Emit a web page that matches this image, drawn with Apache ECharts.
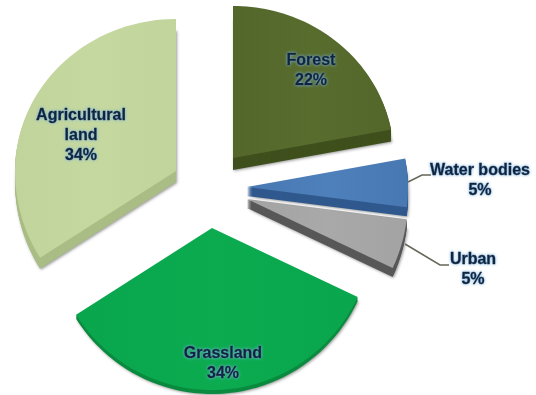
<!DOCTYPE html>
<html>
<head>
<meta charset="utf-8">
<title>Land cover</title>
<style>html,body{margin:0;padding:0;background:#fff}#chart{width:536px;height:395px}</style>
<script src="https://cdn.jsdelivr.net/npm/echarts@6/dist/echarts.min.js"></script>
</head>
<body>
<div id="chart"></div>
<script>
// Land cover shares, clockwise from twelve o'clock
const categories = ['Forest', 'Water bodies', 'Urban', 'Grassland', 'Agricultural\nland'];
const shares = [22, 5, 5, 34, 34];

// Look of each wedge: exploded apex, extrusion depth, face and side colours, label anchor
const apexX = [233, 247, 247, 212, 176];
const apexY = [158, 187, 199, 228, 171];
const depth = [12, 9, 9, 4, 11];
const faceLight = ['#586c2e', '#4e80bb', '#a9a9a9', '#0cab50', '#c5d8a0'];
const faceDark = ['#54672b', '#4878b2', '#a3a3a3', '#09a64d', '#c1d49b'];
const sideColor = ['#3f501d', '#30598e', '#585858', '#0a8b3f', '#aabd85'];
const labelX = [311, 480, 473, 223, 81];
const labelY = [71, 181, 270, 364, 136];
const leaders = [null, [[408, 182], [422, 175], [431, 175]], [[405, 244], [440, 265], [449, 265]], null, null];
const drawOrder = [4, 2, 1, 4, 1];

const radiusX = 161, radiusUp = 152, radiusDown = 162;
const total = shares.reduce((a, b) => a + b, 0);

// Angles in radians clockwise from the top, taken from the running total of the shares
function wedgeOutline(index, dy) {
  let before = 0;
  for (let i = 0; i < index; i++) before += shares[i];
  const a0 = before / total * Math.PI * 2;
  const a1 = (before + shares[index]) / total * Math.PI * 2;
  const pts = [[apexX[index], apexY[index] + dy]];
  const steps = 48;
  for (let s = 0; s <= steps; s++) {
    const a = a0 + (a1 - a0) * s / steps;
    const c = Math.cos(a);
    pts.push([
      apexX[index] + radiusX * Math.sin(a),
      apexY[index] + dy - c * (c > 0 ? radiusUp : radiusDown)
    ]);
  }
  return pts;
}

function renderWedge(params, api) {
  const i = api.value(0);
  const children = [];
  // extruded side: the outline repeated downward, the lowest copy casts the soft shadow
  for (let d = depth[i]; d >= 1; d--) {
    children.push({
      type: 'polygon',
      z2: drawOrder[i],
      shape: { points: wedgeOutline(i, d) },
      style: d === depth[i]
        ? { fill: sideColor[i], shadowColor: 'rgba(0,0,0,0.4)', shadowBlur: 3, shadowOffsetX: 1, shadowOffsetY: 1 }
        : { fill: sideColor[i] }
    });
  }
  children.push({
    type: 'polygon',
    z2: drawOrder[i],
    shape: { points: wedgeOutline(i, 0) },
    style: {
      fill: new echarts.graphic.LinearGradient(0, 0, 1, 0, [
        { offset: 0, color: faceDark[i] },
        { offset: 0.5, color: faceLight[i] },
        { offset: 1, color: faceDark[i] }
      ])
    }
  });
  if (leaders[i]) {
    children.push({
      type: 'polyline',
      z2: 20,
      shape: { points: leaders[i] },
      style: { fill: null, stroke: '#666659', lineWidth: 1.5 }
    });
  }
  children.push({
    type: 'text',
    z2: 30,
    x: labelX[i],
    y: labelY[i],
    style: {
      text: categories[i] + '\n' + shares[i] + '%',
      x: 0,
      y: 0,
      align: 'center',
      verticalAlign: 'middle',
      fontFamily: 'Liberation Sans',
      fontWeight: 'bold',
      fontSize: 16,
      lineHeight: 20,
      fill: '#10233f',
      stroke: '#10233f',
      lineWidth: 0.4,
      textShadowColor: '#7fb6e0',
      textShadowBlur: 3
    }
  });
  return { type: 'group', children };
}

const chart = echarts.init(document.getElementById('chart'), null, { renderer: 'canvas' });
chart.setOption({
  animation: false,
  backgroundColor: '#ffffff',
  series: [{
    type: 'custom',
    coordinateSystem: 'none',
    renderItem: renderWedge,
    silent: true,
    encode: { value: 1 },
    data: shares.map((v, i) => [i, v])
  }]
});
</script>
</body>
</html>
